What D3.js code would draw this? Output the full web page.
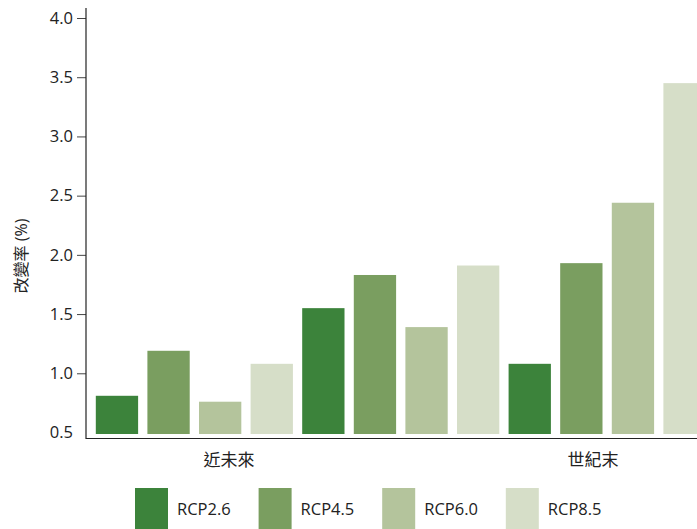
<!DOCTYPE html>
<html>
<head>
<meta charset="utf-8">
<script src="https://cdn.jsdelivr.net/npm/d3@7"></script>
<style>
body { margin: 0; background: #fff; }
text { font-family: "Open Sans", "Noto Sans", "Noto Sans CJK TC", sans-serif; fill: #222; }
</style>
</head>
<body>
<div id="chart"></div>
<script>
const width = 697, height = 529;

// data
const periods = ['近未來', '世紀末'];
const scenarios = ['RCP2.6', 'RCP4.5', 'RCP6.0', 'RCP8.5'];
const colors = ['#3c833b', '#7a9e60', '#b4c49c', '#d6dec8'];
// three blocks of four bars, left to right
const values = [0.81, 1.19, 0.76, 1.08,
                1.55, 1.83, 1.39, 1.91,
                1.08, 1.93, 2.44, 3.45];
const yTicks = [0.5, 1.0, 1.5, 2.0, 2.5, 3.0, 3.5, 4.0];

const svg = d3.select('#chart').append('svg')
  .attr('width', width).attr('height', height)
  .attr('viewBox', `0 0 ${width} ${height}`);

const x = d3.scaleBand().domain(d3.range(values.length))
  .range([86, 715.5]).paddingInner(0.18).paddingOuter(0.19);
const y = d3.scaleLinear().domain([0.5, 4.0]).range([432.5, 18]);
const xLab = d3.scalePoint().domain(periods).range([229, 593]);

svg.selectAll('rect.bar').data(values).enter()
  .append('rect').attr('class', 'bar')
  .attr('x', (d, i) => x(i))
  .attr('width', x.bandwidth())
  .attr('y', d => y(d))
  .attr('height', d => y(0.5) - y(d) + 1.5)
  .style('fill', (d, i) => colors[i % 4]);

// y axis
const yAxis = svg.append('g').attr('transform', 'translate(86,0)')
  .call(d3.axisLeft(y).tickValues(yTicks).tickFormat(d3.format('.1f')).tickSize(9).tickSizeOuter(0));
yAxis.select('.domain').remove();
yAxis.selectAll('.tick line').attr('stroke', '#444');
yAxis.selectAll('.tick').filter(d => d === 0.5).select('line').remove();
yAxis.selectAll('text').attr('x', -13).style('font-size', '16.5px').style('fill', '#222')
  .style('font-family', '"Open Sans", sans-serif');
svg.append('line').attr('x1', 86).attr('x2', 86).attr('y1', 8).attr('y2', 439)
  .attr('stroke', '#222').attr('stroke-width', 1.2);

// x axis line
svg.append('line').attr('x1', 86).attr('x2', width).attr('y1', 438.5).attr('y2', 438.5)
  .attr('stroke', '#222').attr('stroke-width', 1.2);

svg.selectAll('text.period').data(periods).enter()
  .append('text').attr('class', 'period')
  .attr('x', d => xLab(d)).attr('y', 466)
  .attr('text-anchor', 'middle')
  .style('font-size', '17px')
  .text(d => d);

svg.append('text')
  .attr('transform', 'translate(27,256) rotate(-90)')
  .attr('text-anchor', 'middle')
  .style('font-size', '16px')
  .text('改變率 (%)');

// legend
const leg = svg.selectAll('g.leg').data(scenarios).enter()
  .append('g').attr('class', 'leg')
  .attr('transform', (d, i) => `translate(${135 + i * 123.6},488)`);
leg.append('rect').attr('width', 33).attr('height', 41)
  .style('fill', (d, i) => colors[i]);
leg.append('text').attr('x', 42).attr('y', 27)
  .style('font-size', '16.5px')
  .text(d => d);
</script>
</body>
</html>
